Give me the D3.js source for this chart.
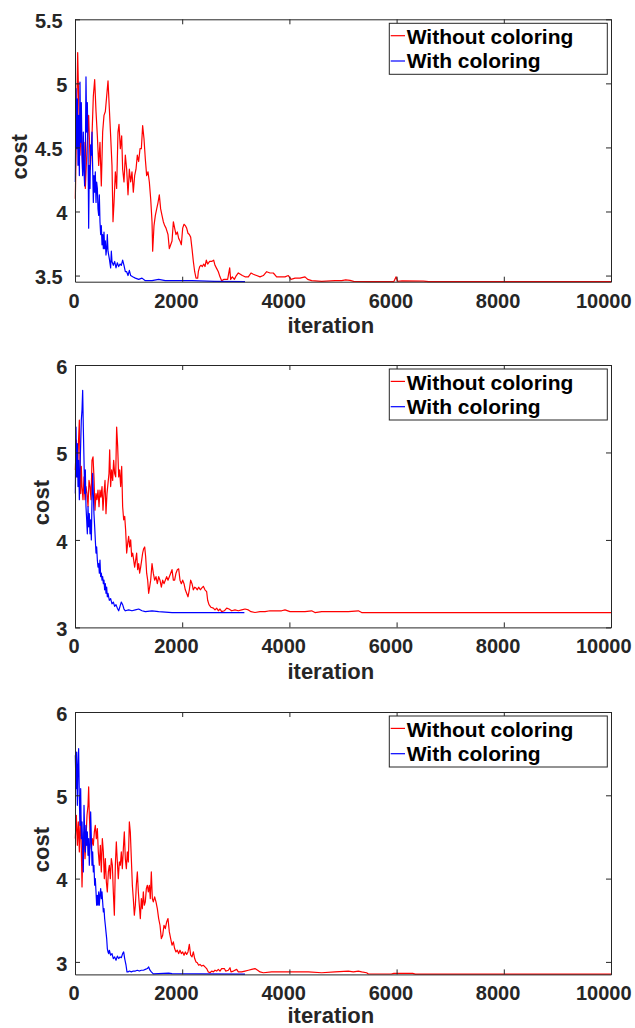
<!DOCTYPE html>
<html>
<head>
<meta charset="utf-8">
<script src="https://cdn.jsdelivr.net/npm/d3@7"></script>
<style>
  body { margin: 0; background: #fff; }
  svg { display: block; }
  text { font-family: "Liberation Sans", Arial, Helvetica, sans-serif; font-weight: bold; }
</style>
</head>
<body>
<div id="chart"></div>
<script>
// ---------------------------------------------
// data: [iteration, cost]
// ---------------------------------------------
const seriesNames = ["Without coloring", "With coloring"];
const xTicks = [0, 2000, 4000, 6000, 8000, 10000];
const xDomain = [0, 10000];

const yDomains = [[3.452, 5.5], [3, 6], [2.85, 6]];
const yTicks = [[3.5, 4, 4.5, 5, 5.5], [3, 4, 5, 6], [3, 4, 5, 6]];

const p1Without = [[6,4.10],[31,4.75],[50,5.24],[68,4.88],[93,4.44],[118,4.67],[143,4.31],[168,4.54],[193,4.18],[224,4.49],[255,4.75],[286,4.33],[317,4.59],[342,4.90],[367,5.03],[392,4.78],[417,4.59],[442,4.36],[466,4.54],[491,4.20],[516,4.62],[541,4.75],[566,4.78],[591,4.90],[616,5.02],[641,4.80],[665,4.59],[690,4.36],[709,3.92],[728,4.07],[753,4.31],[777,4.18],[802,4.62],[821,4.68],[846,4.49],[871,4.59],[889,4.33],[914,4.23],[939,4.44],[964,4.33],[989,4.13],[1014,4.33],[1039,4.23],[1063,4.31],[1088,4.15],[1113,4.28],[1138,4.33],[1163,4.44],[1188,4.39],[1213,4.49],[1238,4.49],[1262,4.67],[1287,4.57],[1312,4.41],[1337,4.28],[1362,4.31],[1387,4.23],[1412,4.10],[1437,3.92],[1449,3.69],[1474,3.89],[1499,3.97],[1524,4.02],[1549,4.07],[1573,4.13],[1598,4.02],[1623,3.97],[1648,3.92],[1673,3.89],[1698,3.87],[1735,3.82],[1760,3.71],[1785,3.74],[1810,3.77],[1835,3.92],[1859,3.87],[1884,3.82],[1909,3.84],[1934,3.79],[1959,3.77],[1984,3.74],[2009,3.87],[2034,3.90],[2058,3.89],[2083,3.87],[2108,3.83],[2133,3.82],[2158,3.80],[2183,3.71],[2208,3.61],[2233,3.53],[2258,3.48],[2289,3.48],[2301,3.53],[2326,3.57],[2351,3.58],[2376,3.57],[2401,3.59],[2425,3.57],[2450,3.62],[2475,3.59],[2512,3.61],[2550,3.61],[2587,3.62],[2612,3.58],[2637,3.56],[2674,3.53],[2705,3.49],[2736,3.46],[2774,3.47],[2811,3.47],[2848,3.47],[2886,3.56],[2904,3.47],[2935,3.49],[2973,3.47],[3010,3.50],[3047,3.52],[3085,3.51],[3122,3.50],[3172,3.49],[3234,3.49],[3284,3.52],[3327,3.51],[3389,3.50],[3452,3.49],[3514,3.50],[3576,3.53],[3638,3.52],[3700,3.52],[3762,3.49],[3825,3.49],[3918,3.49],[3980,3.50],[4030,3.47],[4105,3.48],[4198,3.48],[4291,3.49],[4341,3.47],[4415,3.46],[4602,3.455],[4851,3.46],[4975,3.46],[5050,3.466],[5130,3.462],[5200,3.455],[5500,3.453],[5950,3.453],[5990,3.49],[6020,3.455],[6100,3.458],[6500,3.457],[6600,3.452],[10000,3.452]];
const p1With = [[6,4.23],[19,4.96],[31,4.49],[44,4.88],[56,4.36],[68,4.75],[81,4.28],[93,5.01],[106,4.54],[118,4.85],[131,4.44],[143,4.28],[155,4.62],[168,4.31],[180,4.20],[193,4.44],[205,5.05],[218,4.62],[230,4.85],[243,4.49],[255,3.87],[267,4.36],[280,4.18],[292,4.52],[305,4.44],[317,4.62],[330,4.33],[342,4.07],[354,4.28],[367,4.15],[379,4.31],[392,4.07],[404,4.23],[417,4.18],[429,4.02],[442,3.97],[454,4.13],[466,3.92],[479,3.82],[491,3.89],[504,3.74],[516,3.82],[529,3.71],[541,3.84],[553,3.71],[566,3.77],[578,3.66],[591,3.71],[603,3.82],[616,3.69],[641,3.63],[665,3.56],[678,3.69],[690,3.61],[715,3.58],[740,3.61],[765,3.56],[790,3.60],[815,3.57],[840,3.59],[864,3.58],[889,3.62],[914,3.58],[939,3.53],[964,3.53],[989,3.50],[1014,3.54],[1039,3.50],[1076,3.49],[1126,3.48],[1188,3.47],[1250,3.48],[1312,3.46],[1437,3.46],[1561,3.47],[1685,3.46],[1934,3.46],[2183,3.46],[2600,3.455],[3172,3.453]];

const p2Without = [[6,4.80],[25,5.14],[44,4.72],[62,5.07],[81,5.37],[93,4.91],[106,4.53],[118,4.84],[131,4.61],[149,4.46],[168,4.72],[187,4.46],[205,4.61],[224,4.53],[243,4.38],[261,4.68],[280,4.61],[299,4.46],[317,4.91],[336,4.95],[354,4.72],[373,4.34],[392,4.53],[410,4.46],[429,4.57],[448,4.38],[466,4.57],[485,4.49],[504,4.61],[522,4.34],[541,4.53],[560,4.68],[578,4.30],[597,4.53],[616,4.65],[634,4.76],[647,5.03],[665,4.61],[684,4.80],[703,4.68],[721,4.91],[740,4.76],[759,4.72],[777,5.29],[796,5.07],[815,4.72],[833,4.80],[852,4.61],[871,4.84],[889,4.38],[908,4.23],[927,4.27],[945,4.11],[964,3.85],[983,3.96],[1001,4.04],[1020,3.92],[1039,4.00],[1057,3.81],[1076,3.85],[1095,3.77],[1113,3.69],[1132,3.77],[1150,3.85],[1169,3.66],[1188,3.73],[1206,3.62],[1225,3.69],[1244,3.77],[1262,3.85],[1281,3.90],[1300,3.92],[1318,3.81],[1337,3.62],[1356,3.54],[1374,3.39],[1393,3.46],[1412,3.54],[1437,3.73],[1461,3.62],[1486,3.54],[1511,3.58],[1536,3.50],[1561,3.58],[1586,3.54],[1611,3.46],[1636,3.54],[1660,3.50],[1685,3.54],[1710,3.58],[1735,3.54],[1760,3.58],[1785,3.62],[1810,3.66],[1835,3.54],[1859,3.54],[1884,3.62],[1909,3.66],[1934,3.67],[1959,3.54],[1984,3.50],[2009,3.54],[2034,3.50],[2058,3.43],[2083,3.39],[2108,3.35],[2133,3.43],[2158,3.54],[2183,3.50],[2208,3.43],[2233,3.46],[2258,3.45],[2282,3.43],[2307,3.46],[2338,3.43],[2363,3.45],[2394,3.47],[2425,3.43],[2456,3.41],[2475,3.31],[2500,3.26],[2537,3.23],[2581,3.22],[2612,3.20],[2643,3.22],[2674,3.19],[2705,3.21],[2736,3.18],[2786,3.19],[2830,3.22],[2873,3.21],[2923,3.19],[2985,3.20],[3047,3.19],[3110,3.20],[3172,3.21],[3234,3.20],[3284,3.18],[3358,3.17],[3452,3.18],[3545,3.18],[3638,3.19],[3731,3.19],[3855,3.19],[3918,3.20],[4011,3.18],[4105,3.18],[4291,3.18],[4415,3.19],[4477,3.17],[4602,3.18],[4851,3.18],[5099,3.18],[5286,3.19],[5348,3.17],[5597,3.17],[5970,3.17],[10000,3.17]];
const p2With = [[6,4.53],[19,5.29],[31,4.72],[44,5.10],[56,4.61],[68,4.91],[81,4.46],[93,4.80],[106,5.10],[118,5.37],[131,5.49],[143,5.71],[155,5.29],[168,4.91],[180,4.53],[193,4.80],[205,4.38],[218,4.23],[230,4.07],[243,4.38],[255,4.15],[267,4.30],[280,4.07],[292,4.23],[305,4.00],[317,4.46],[330,4.76],[342,4.53],[354,4.30],[367,4.15],[379,4.00],[392,3.85],[404,3.92],[417,3.77],[429,3.69],[442,3.73],[454,3.62],[466,3.77],[479,3.58],[491,3.62],[504,3.54],[516,3.58],[529,3.50],[541,3.54],[553,3.43],[566,3.50],[578,3.39],[591,3.46],[603,3.35],[616,3.39],[641,3.31],[665,3.33],[690,3.27],[715,3.29],[740,3.24],[765,3.26],[790,3.22],[815,3.19],[840,3.24],[864,3.29],[889,3.26],[914,3.21],[939,3.19],[1001,3.20],[1063,3.19],[1126,3.20],[1188,3.21],[1250,3.19],[1312,3.18],[1437,3.19],[1561,3.18],[1810,3.17],[2058,3.17],[2338,3.17],[3160,3.17]];

const p3Without = [[6,4.48],[25,4.76],[44,4.40],[62,4.68],[81,4.32],[100,4.80],[118,4.36],[131,3.90],[149,4.40],[168,4.56],[187,4.24],[205,4.48],[224,4.76],[243,4.88],[255,5.10],[267,4.76],[286,4.48],[305,4.36],[323,4.48],[342,4.40],[361,4.56],[379,4.64],[398,4.48],[417,4.60],[435,4.32],[454,4.16],[473,4.40],[491,4.08],[510,4.48],[529,4.32],[547,4.00],[566,4.24],[585,3.96],[603,3.84],[622,4.08],[641,4.16],[659,4.00],[678,4.24],[697,4.16],[715,3.84],[734,3.56],[753,4.16],[771,4.44],[790,4.20],[808,4.00],[827,4.20],[846,4.16],[864,4.32],[883,4.12],[902,4.36],[920,4.56],[939,4.24],[958,4.12],[976,4.32],[995,4.20],[1014,4.68],[1032,4.56],[1051,4.24],[1070,3.92],[1088,3.76],[1107,3.56],[1126,3.68],[1144,3.92],[1163,4.08],[1182,3.84],[1200,3.68],[1219,3.52],[1238,3.76],[1256,3.64],[1275,3.84],[1293,3.68],[1312,3.72],[1331,3.88],[1350,3.92],[1368,3.84],[1387,3.92],[1405,3.76],[1424,4.08],[1443,3.76],[1461,3.72],[1486,3.78],[1511,3.72],[1536,3.64],[1561,3.52],[1586,3.44],[1611,3.28],[1636,3.32],[1660,3.44],[1685,3.40],[1710,3.48],[1735,3.52],[1760,3.36],[1785,3.28],[1810,3.20],[1835,3.24],[1859,3.16],[1884,3.12],[1909,3.14],[1934,3.10],[1959,3.14],[1984,3.10],[2009,3.12],[2034,3.08],[2058,3.12],[2083,3.09],[2108,3.12],[2133,3.21],[2158,3.08],[2183,3.06],[2208,3.12],[2233,3.04],[2258,3.00],[2282,2.99],[2307,2.96],[2332,2.97],[2363,2.95],[2394,2.96],[2425,2.94],[2456,2.92],[2487,2.88],[2519,2.87],[2550,2.89],[2581,2.88],[2612,2.90],[2643,2.89],[2674,2.91],[2705,2.89],[2736,2.92],[2786,2.92],[2811,2.89],[2861,2.90],[2892,2.93],[2910,2.88],[2954,2.89],[3016,2.91],[3047,2.88],[3110,2.88],[3172,2.89],[3234,2.90],[3296,2.91],[3358,2.92],[3408,2.90],[3452,2.88],[3514,2.87],[3669,2.88],[3855,2.88],[4105,2.88],[4353,2.88],[4602,2.87],[4851,2.88],[5099,2.89],[5193,2.88],[5286,2.89],[5348,2.88],[5441,2.87],[5473,2.855],[5900,2.855],[5950,2.862],[6300,2.862],[6350,2.853],[10000,2.853]];
const p3With = [[6,5.48],[19,5.08],[31,5.52],[44,4.88],[56,5.36],[68,5.56],[81,4.96],[93,4.64],[106,5.08],[118,4.48],[131,4.68],[143,4.36],[155,4.08],[168,4.88],[180,4.56],[193,4.32],[205,4.64],[218,4.40],[230,4.56],[243,4.28],[255,4.48],[267,4.16],[280,4.40],[292,4.80],[305,4.48],[317,4.16],[330,4.32],[342,4.08],[354,4.16],[367,3.92],[379,4.00],[392,3.84],[404,3.68],[417,3.80],[429,3.68],[442,3.84],[454,3.68],[466,3.80],[479,3.88],[491,3.76],[504,3.84],[516,3.72],[529,3.60],[541,3.64],[553,3.52],[566,3.44],[578,3.36],[591,3.28],[603,3.16],[616,3.12],[628,3.10],[641,3.14],[665,3.08],[690,3.10],[715,3.04],[740,3.06],[765,3.02],[790,3.07],[815,3.04],[840,3.06],[864,3.05],[889,3.10],[908,3.12],[927,3.04],[952,2.96],[970,2.88],[989,2.88],[1014,2.89],[1051,2.88],[1088,2.89],[1126,2.89],[1163,2.90],[1200,2.89],[1238,2.90],[1275,2.90],[1312,2.91],[1350,2.92],[1374,2.94],[1399,2.90],[1424,2.88],[1461,2.856],[1748,2.865],[1810,2.86],[2338,2.856],[3172,2.853]];

const withoutSeries = [p1Without, p2Without, p3Without];
const withSeries = [p1With, p2With, p3With];

// ---------------------------------------------
// layout
// ---------------------------------------------
const W = 635, H = 1028;
const plotLeft = 75, plotRight = 611;
const panelTops = [19.3, 365, 712];
const plotH = 262.4;
const axisColor = "#262626";
const colors = ["#ff0000", "#0000ff"];
const tickFont = 20, labelFont = 22, legendFont = 21;
// exported text sits off its anchor: layout width ~1.28x the drawn width
const shiftK = 1.28;

const svg = d3.select("#chart").append("svg")
  .attr("width", W)
  .attr("height", H);

const xScale = d3.scaleLinear().domain(xDomain).range([plotLeft, plotRight]);

const line = (y) => d3.line()
  .x(d => xScale(d[0]))
  .y(d => y(d[1]));

panelTops.forEach((top, i) => {
  const bottom = top + plotH;
  const yScale = d3.scaleLinear().domain(yDomains[i]).range([bottom, top]);
  const g = svg.append("g");

  // series (red first, blue on top)
  [withoutSeries[i], withSeries[i]].forEach((pts, s) => {
    g.append("path")
      .datum(pts)
      .attr("fill", "none")
      .attr("stroke", colors[s])
      .attr("stroke-width", 1.2)
      .attr("stroke-linejoin", "round")
      .attr("d", line(yScale));
  });

  // ------------------
  // Axes (box on, ticks inward)
  // ------------------
  const xb = g.append("g")
    .attr("transform", `translate(0,${bottom})`)
    .call(d3.axisBottom(xScale).tickValues(xTicks).tickSizeInner(-5).tickSizeOuter(0).tickFormat(d3.format("d")));
  const xt = g.append("g")
    .attr("transform", `translate(0,${top})`)
    .call(d3.axisTop(xScale).tickValues(xTicks).tickSizeInner(-5).tickSizeOuter(0).tickFormat(""));
  const yl = g.append("g")
    .attr("transform", `translate(${plotLeft},0)`)
    .call(d3.axisLeft(yScale).tickValues(yTicks[i]).tickSizeInner(-5).tickSizeOuter(0).tickFormat(d3.format("")));
  const yr = g.append("g")
    .attr("transform", `translate(${plotRight},0)`)
    .call(d3.axisRight(yScale).tickValues(yTicks[i]).tickSizeInner(-5).tickSizeOuter(0).tickFormat(""));

  [xb, xt, yl, yr].forEach(ax => {
    ax.select(".domain").attr("stroke", axisColor).attr("stroke-width", 1);
    ax.selectAll(".tick line").attr("stroke", axisColor).attr("stroke-width", 1);
  });
  xt.selectAll(".tick text").remove();
  yr.selectAll(".tick text").remove();

  xb.selectAll(".tick text")
    .attr("fill", axisColor)
    .style("font-size", tickFont + "px")
    .attr("text-anchor", "start")
    .attr("dy", null)
    .attr("y", 26)
    .attr("x", function () { return -shiftK * this.getComputedTextLength() / 2; });

  let maxLab = 0;
  yl.selectAll(".tick text")
    .attr("fill", axisColor)
    .style("font-size", tickFont + "px")
    .attr("text-anchor", "start")
    .attr("dy", null)
    .attr("y", 8.2)
    .attr("x", function () {
      const w = this.getComputedTextLength();
      maxLab = Math.max(maxLab, shiftK * w);
      return -4.5 - shiftK * w;
    });

  // axis labels (last one kept inside the page)
  const xl = g.append("text")
    .attr("fill", axisColor)
    .style("font-size", labelFont + "px")
    .attr("y", Math.min(bottom + 51.6, H - 5.5))
    .text("iteration");
  const xlw = xl.node().getComputedTextLength();
  xl.attr("x", (plotLeft + plotRight) / 2 - shiftK * xlw / 2);

  const cl = g.append("text")
    .attr("fill", axisColor)
    .style("font-size", labelFont + "px")
    .text("cost");
  const clw = cl.node().getComputedTextLength();
  const cx = plotLeft - 4.5 - maxLab - 7.5;
  const cy = (top + bottom) / 2 + shiftK * clw / 2;
  cl.attr("transform", `translate(${cx},${cy}) rotate(-90)`);

  // ------------------
  // Legend
  // ------------------
  const lg = g.append("g").attr("transform", `translate(389.3,${top + 4})`);
  lg.append("rect")
    .attr("width", 218)
    .attr("height", 51)
    .attr("fill", "#fff")
    .attr("stroke", axisColor)
    .attr("stroke-width", 1);
  seriesNames.forEach((name, s) => {
    const ly = 12.4 + s * 25.3;
    lg.append("line")
      .attr("x1", 1.4).attr("x2", 15.7)
      .attr("y1", ly).attr("y2", ly)
      .attr("stroke", colors[s])
      .attr("stroke-width", 1.2);
    lg.append("text")
      .attr("x", 17.4)
      .attr("y", 21 + s * 24)
      .attr("fill", "#000")
      .style("font-size", legendFont + "px")
      .text(name);
  });
});
</script>
</body>
</html>
